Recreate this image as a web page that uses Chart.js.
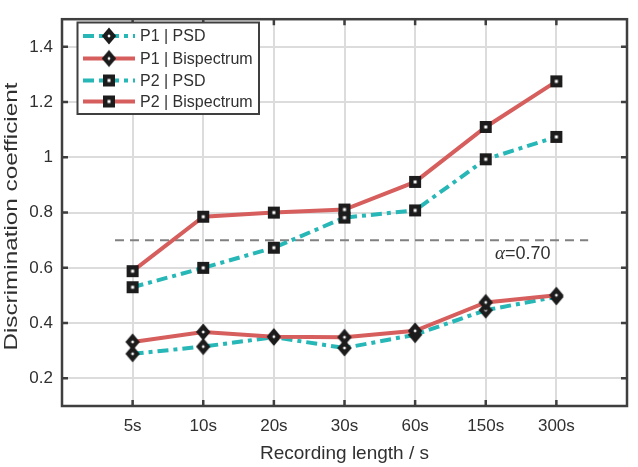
<!DOCTYPE html>
<html><head><meta charset="utf-8">
<script src="https://cdn.jsdelivr.net/npm/chart.js@4.4.0/dist/chart.umd.min.js"></script>
<style>html,body{margin:0;padding:0;background:#fff}#wrap{width:638px;height:467px;position:relative}</style>
</head><body><div id="wrap"><canvas id="c"></canvas></div>
<script>
// ---- data ----
const categories = ['5s','10s','20s','30s','60s','150s','300s'];
const p1PSD = [0.289,0.315,0.349,0.310,0.358,0.447,0.495];
const p1Bis = [0.332,0.368,0.351,0.349,0.372,0.475,0.501];
const p2PSD = [0.530,0.600,0.673,0.782,0.808,0.993,1.074];
const p2Bis = [0.588,0.785,0.800,0.811,0.911,1.110,1.275];
const yTicks = [0.2,0.4,0.6,0.8,1.0,1.2,1.4];
const threshold = 0.70;
const thresholdSpan = [0.75, 7.45];
const seriesLabels = ['P1 | PSD','P1 | Bispectrum','P2 | PSD','P2 | Bispectrum'];
const xTitle = 'Recording length / s';
const yTitle = 'Discrimination coefficient';

// ---- styles ----
const TEAL = '#27b7b7', RED = '#d65f5e', INK = '#303030', AX = '#3f3f3f';
const FONT = '"Liberation Sans", Arial, sans-serif';

function makeDiamond(){
  const c = document.createElement('canvas'); c.width = 18; c.height = 20;
  const g = c.getContext('2d');
  g.fillStyle = '#1c1c1c';
  g.beginPath(); g.moveTo(9,1.5); g.lineTo(16.2,10); g.lineTo(9,18.5); g.lineTo(1.8,10); g.closePath(); g.fill();
  g.fillStyle = '#ffffff';
  g.beginPath(); g.moveTo(9,8.3); g.lineTo(10.7,10); g.lineTo(9,11.7); g.lineTo(7.3,10); g.closePath(); g.fill();
  return c;
}
function makeSquare(){
  const c = document.createElement('canvas'); c.width = 14; c.height = 14;
  const g = c.getContext('2d');
  g.fillStyle = '#1c1c1c'; g.fillRect(1,1,12,12);
  g.fillStyle = '#ffffff'; g.fillRect(5.5,5.5,3,3);
  return c;
}
const DIAMOND = makeDiamond(), SQUARE = makeSquare();
const DASHDOT = [11,5,4,5];

const toXY = arr => arr.map((v,i)=>({x:i+1,y:v}));

const datasets = [
  {label:seriesLabels[0], data:toXY(p1PSD), borderColor:TEAL, borderWidth:4, borderDash:DASHDOT, pointStyle:DIAMOND, order:4},
  {label:seriesLabels[1], data:toXY(p1Bis), borderColor:RED, borderWidth:4, pointStyle:DIAMOND, order:3},
  {label:seriesLabels[2], data:toXY(p2PSD), borderColor:TEAL, borderWidth:4, borderDash:DASHDOT, pointStyle:SQUARE, order:2},
  {label:seriesLabels[3], data:toXY(p2Bis), borderColor:RED, borderWidth:4, pointStyle:SQUARE, order:1},
  {label:'threshold', data:thresholdSpan.map(x=>({x, y:threshold})), borderColor:'#808080', borderWidth:2, borderDash:[9,6], pointRadius:0, order:9}
].map(d=>Object.assign({fill:false, tension:0, pointRadius:d.pointRadius===0?0:7, backgroundColor:d.borderColor}, d));

const decor = {
  id:'decor',
  afterDatasetsDraw(chart){
    const {ctx, chartArea:a, scales:{x,y}} = chart;
    ctx.save();
    ctx.strokeStyle = AX; ctx.lineWidth = 2.5;
    ctx.strokeRect(a.left, a.top, a.right-a.left, a.bottom-a.top);
    ctx.beginPath();
    const TL = 6;
    yTicks.forEach(v=>{ const py = y.getPixelForValue(v);
      ctx.moveTo(a.left,py); ctx.lineTo(a.left+TL,py);
      ctx.moveTo(a.right,py); ctx.lineTo(a.right-TL,py); });
    categories.forEach((c,i)=>{ const px = x.getPixelForValue(i+1);
      ctx.moveTo(px,a.bottom); ctx.lineTo(px,a.bottom-TL);
      ctx.moveTo(px,a.top); ctx.lineTo(px,a.top+TL); });
    ctx.stroke();
    // y axis title (rotated, stretched along its length)
    ctx.save();
    ctx.translate(12, (a.top + a.bottom)/2 + 4);
    ctx.rotate(-Math.PI/2);
    ctx.font = '19px ' + FONT;
    const tw = ctx.measureText(yTitle).width;
    ctx.scale(268 / tw, 1);
    ctx.fillStyle = INK; ctx.textAlign = 'center'; ctx.textBaseline = 'middle';
    ctx.fillText(yTitle, 0, 0);
    ctx.restore();
    // alpha label
    const lx = x.getPixelForValue(6.13), ly = y.getPixelForValue(threshold) + 19;
    ctx.fillStyle = INK; ctx.textBaseline = 'alphabetic'; ctx.textAlign = 'left';
    ctx.font = 'italic 19px "Liberation Serif", "DejaVu Serif", serif';
    ctx.fillText('\u03B1', lx, ly);
    const w = ctx.measureText('\u03B1').width;
    ctx.font = '18px ' + FONT;
    ctx.fillText('=' + threshold.toFixed(2), lx + w, ly);
    // legend
    const L = {x:77.5, y:22.5, w:181.5, h:91.5};
    ctx.fillStyle = '#fff'; ctx.fillRect(L.x, L.y, L.w, L.h);
    ctx.strokeStyle = AX; ctx.lineWidth = 2; ctx.strokeRect(L.x, L.y, L.w, L.h);
    const rows = [36, 58.5, 80.5, 101.5];
    chart.data.datasets.slice(0,4).forEach((d,i)=>{
      const ry = rows[i];
      ctx.strokeStyle = d.borderColor; ctx.lineWidth = 4;
      ctx.setLineDash(d.borderDash || []);
      ctx.beginPath(); ctx.moveTo(83, ry); ctx.lineTo(135, ry); ctx.stroke();
      ctx.setLineDash([]);
      const img = d.pointStyle;
      ctx.drawImage(img, 109 - img.width/2, ry - img.height/2);
      ctx.fillStyle = INK; ctx.font = '16px ' + FONT; ctx.textBaseline = 'middle';
      ctx.fillText(d.label, 140, ry + 1);
    });
    ctx.restore();
  }
};

new Chart(document.getElementById('c'), {
  type:'line',
  data:{datasets},
  options:{
    responsive:true, maintainAspectRatio:false, animation:false, devicePixelRatio:1,
    layout:{padding:{top:5, right:6, left:0, bottom:0}},
    plugins:{legend:{display:false}, tooltip:{enabled:false}},
    scales:{
      x:{type:'linear', min:0, max:8,
        afterBuildTicks: s => { s.ticks = [0,1,2,3,4,5,6,7,8].map(v=>({value:v})); },
        afterFit: s => { s.height = 61; },
        ticks:{callback:(v)=> (v>=1 && v<=categories.length) ? categories[v-1] : '', color:INK, font:{family:FONT, size:17}, padding:10, maxRotation:0, autoSkip:false},
        grid:{color:'#dcdcdc', lineWidth:2, drawTicks:false},
        border:{display:false},
        title:{display:true, text:xTitle, color:INK, font:{family:FONT, size:19}, padding:{top:0, bottom:2}}
      },
      y:{type:'linear', min:0.1, max:1.5,
        afterBuildTicks: s => { s.ticks = yTicks.map(v=>({value:v})); },
        afterFit: s => { s.width = 62; },
        ticks:{callback:(v)=> String(Math.round(v*10)/10), color:INK, font:{family:FONT, size:17}, padding:9},
        grid:{color:'#dcdcdc', lineWidth:2, drawTicks:false},
        border:{display:false},
        title:{display:false}
      }
    }
  },
  plugins:[decor]
});
</script></body></html>
